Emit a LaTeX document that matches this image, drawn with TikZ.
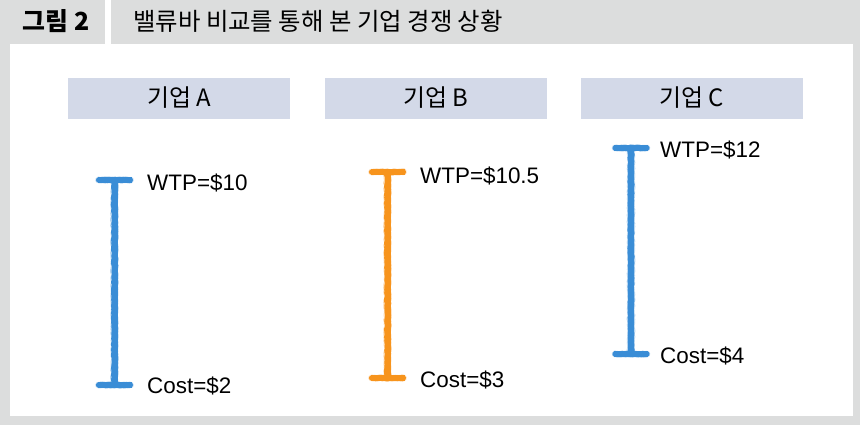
\documentclass[tikz,border=0pt]{standalone}
\usepackage{fontspec}
\setmainfont{Liberation Sans}
\newfontfamily\kr{Noto Sans CJK KR}
\usetikzlibrary{decorations.pathmorphing}
\definecolor{bggray}{HTML}{DCDDDD}
\definecolor{hdrblue}{HTML}{D3D9E8}
\definecolor{beamblue}{HTML}{3A8DD6}
\definecolor{beamorange}{HTML}{F7941D}
\tikzset{
  hdr/.style={fill=hdrblue, minimum width=222bp, minimum height=41bp, inner sep=0pt, font=\kr\fontsize{24}{24}\selectfont},
  lbl/.style={anchor=west, inner sep=0pt, font=\fontsize{22.5}{22.5}\selectfont},
  beam/.style={line width=6bp, line cap=round, line join=round, decorate, decoration={random steps, segment length=1.5bp, amplitude=0.6bp}},
  beamfuzz/.style={line width=7.5bp, line cap=round, line join=round, opacity=0.35, decorate, decoration={random steps, segment length=1.2bp, amplitude=0.7bp}},
  beamcore/.style={line width=5.5bp, line cap=butt}
}
\begin{document}
\begin{tikzpicture}[x=1bp,y=-1bp]
\useasboundingbox (0,0) rectangle (860,425);
\fill[bggray] (0,0) rectangle (860,425);
% header cells
\fill[white] (105,0) rectangle (111,44);
\fill[white] (10,44) rectangle (853,416);
\node[font=\kr\bfseries\fontsize{25}{25}\selectfont, inner sep=0pt] (fig) at (56,21) {그림 2};
\node[font=\kr\fontsize{24.5}{24.5}\selectfont, anchor=west, inner sep=0pt] (title) at (133,21) {밸류바 비교를 통해 본 기업 경쟁 상황};
% company headers
\node[hdr] (hA) at (179,98) {기업 A};
\node[hdr] (hB) at (436,98) {기업 B};
\node[hdr] (hC) at (691.5,98) {기업 C};
% beam coordinates
\coordinate (At) at (114.5,180); \coordinate (Ab) at (114.5,385);
\coordinate (Bt) at (387.5,172); \coordinate (Bb) at (387.5,378);
\coordinate (Ct) at (631,148);   \coordinate (Cb) at (631,354);
\foreach \t/\b/\c in {At/Ab/beamblue, Bt/Bb/beamorange, Ct/Cb/beamblue}{
  \draw[beamfuzz, \c] (\t) -- (\b);
  \draw[beamcore, \c, line width=6bp] (\t) -- (\b);
  \draw[beam, \c] (\t) -- (\b);
  \foreach \e in {\t,\b}{
    \draw[beamfuzz, \c, line width=6.5bp] ([xshift=-16bp]\e) -- ([xshift=16bp]\e);
    \draw[beamcore, \c] ([xshift=-17bp]\e) -- ([xshift=17bp]\e);
    \draw[beam, \c, line width=5bp] ([xshift=-16bp]\e) -- ([xshift=16bp]\e);
  }
}
% labels
\node[lbl] (Aw) at (147,182.5) {WTP=\$10};
\node[lbl] (Ac) at (147,386) {Cost=\$2};
\node[lbl] (Bw) at (420,176) {WTP=\$10.5};
\node[lbl] (Bc) at (420,380) {Cost=\$3};
\node[lbl] (Cw) at (660,150) {WTP=\$12};
\node[lbl] (Cc) at (660,356) {Cost=\$4};
\end{tikzpicture}
\end{document}
